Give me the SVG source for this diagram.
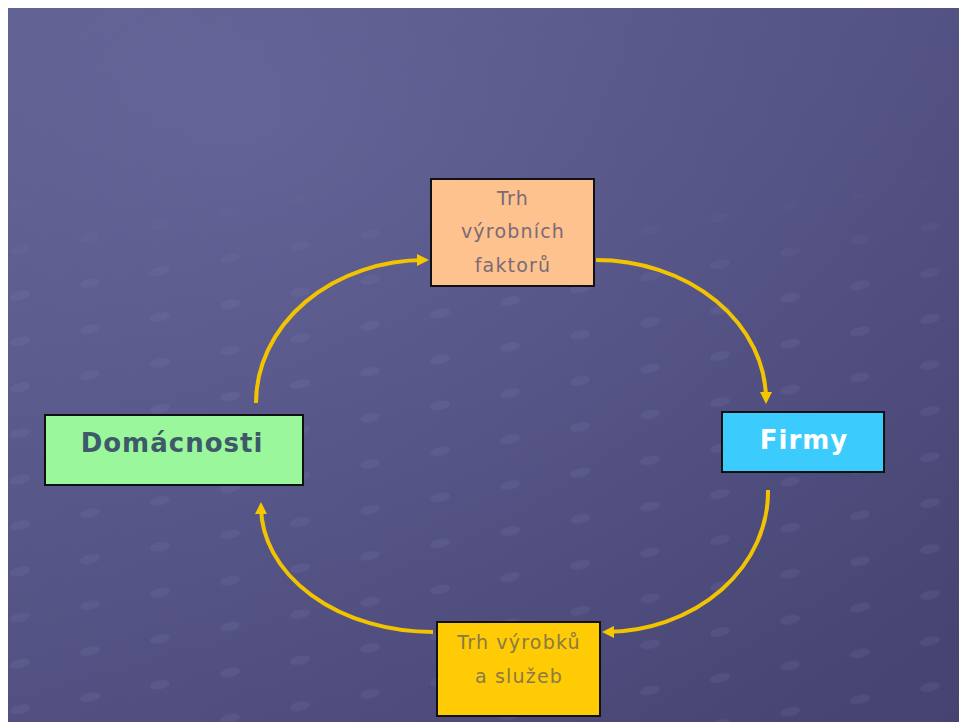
<svg xmlns="http://www.w3.org/2000/svg" width="959" height="722" viewBox="0 0 959 722">
<defs>
<linearGradient id="bg" x1="0" y1="0" x2="1" y2="1">
<stop offset="0" stop-color="#666699"/>
<stop offset="0.5" stop-color="#58578a"/>
<stop offset="1" stop-color="#484674"/>
</linearGradient>
<radialGradient id="sh" cx="0.25" cy="0.15" r="1">
<stop offset="0" stop-color="#6a6aa0" stop-opacity="0.4"/>
<stop offset="1" stop-color="#3e3c68" stop-opacity="0.3"/>
</radialGradient>
<linearGradient id="fade" x1="0" y1="0" x2="0" y2="1">
<stop offset="0" stop-color="#fff" stop-opacity="0"/>
<stop offset="0.25" stop-color="#fff" stop-opacity="1"/>
<stop offset="1" stop-color="#fff" stop-opacity="1"/>
</linearGradient>
<mask id="dm" maskUnits="userSpaceOnUse" x="0" y="0" width="959" height="722">
<rect x="8" y="160" width="951" height="562" fill="url(#fade)"/>
</mask>
<marker id="ah" markerWidth="12" markerHeight="12" refX="8" refY="6" orient="auto" markerUnits="userSpaceOnUse" viewBox="0 0 12 12">
<path d="M0,0 L12,6 L0,12 z" fill="#f5c800"/>
</marker>
<pattern id="dots" width="70" height="46" patternUnits="userSpaceOnUse" patternTransform="skewY(-10)">
<ellipse cx="20" cy="23" rx="10" ry="4.5" fill="#9a9ac8" opacity="0.12"/>
</pattern>
</defs>
<style>
.box{stroke:#111;stroke-width:2}
.arr{fill:none;stroke:#f2c400;stroke-width:4;marker-end:url(#ah)}
.sm{font-family:"DejaVu Sans","Verdana",sans-serif;font-size:19px;letter-spacing:1.2px;text-anchor:middle}
.big{font-family:"DejaVu Sans","Verdana",sans-serif;font-size:26px;font-weight:bold;letter-spacing:1px;text-anchor:middle}
</style>
<rect x="0" y="0" width="959" height="722" fill="#ffffff"/>
<rect x="8" y="8" width="951" height="714" fill="url(#bg)"/>
<rect x="8" y="8" width="951" height="714" fill="url(#sh)"/>
<rect x="8" y="160" width="951" height="562" fill="url(#dots)" mask="url(#dm)"/>
<g id="connectors">
<path class="arr" d="M256,403 A169,143 0 0 1 425,260"/>
<path class="arr" d="M596,260 A170,140 0 0 1 766,400"/>
<path class="arr" d="M768,490 A164,140 0 0 1 606,632"/>
<path class="arr" d="M433,632 A172,126 0 0 1 261,506"/>
</g>
<g id="trh-vyrobnich-faktoru">
<rect class="box" x="431" y="179" width="163" height="107" fill="#fec28e"/>
<text class="sm" x="513" y="205" fill="#7a6a78">Trh</text>
<text class="sm" x="513" y="238" fill="#7a6a78">výrobních</text>
<text class="sm" x="513" y="272" fill="#7a6a78">faktorů</text>
</g>
<g id="domacnosti">
<rect class="box" x="45" y="415" width="258" height="70" fill="#9bf79b"/>
<text class="big" x="172" y="452" fill="#3e5a6a">Domácnosti</text>
</g>
<g id="firmy">
<rect class="box" x="722" y="412" width="162" height="60" fill="#3ccbfd"/>
<text class="big" x="804" y="449" fill="#ffffff">Firmy</text>
</g>
<g id="trh-vyrobku-a-sluzeb">
<rect class="box" x="437" y="622" width="163" height="94" fill="#ffcb05"/>
<text class="sm" x="519" y="649" fill="#8a7a46">Trh výrobků</text>
<text class="sm" x="519" y="683" fill="#8a7a46">a služeb</text>
</g>
</svg>
